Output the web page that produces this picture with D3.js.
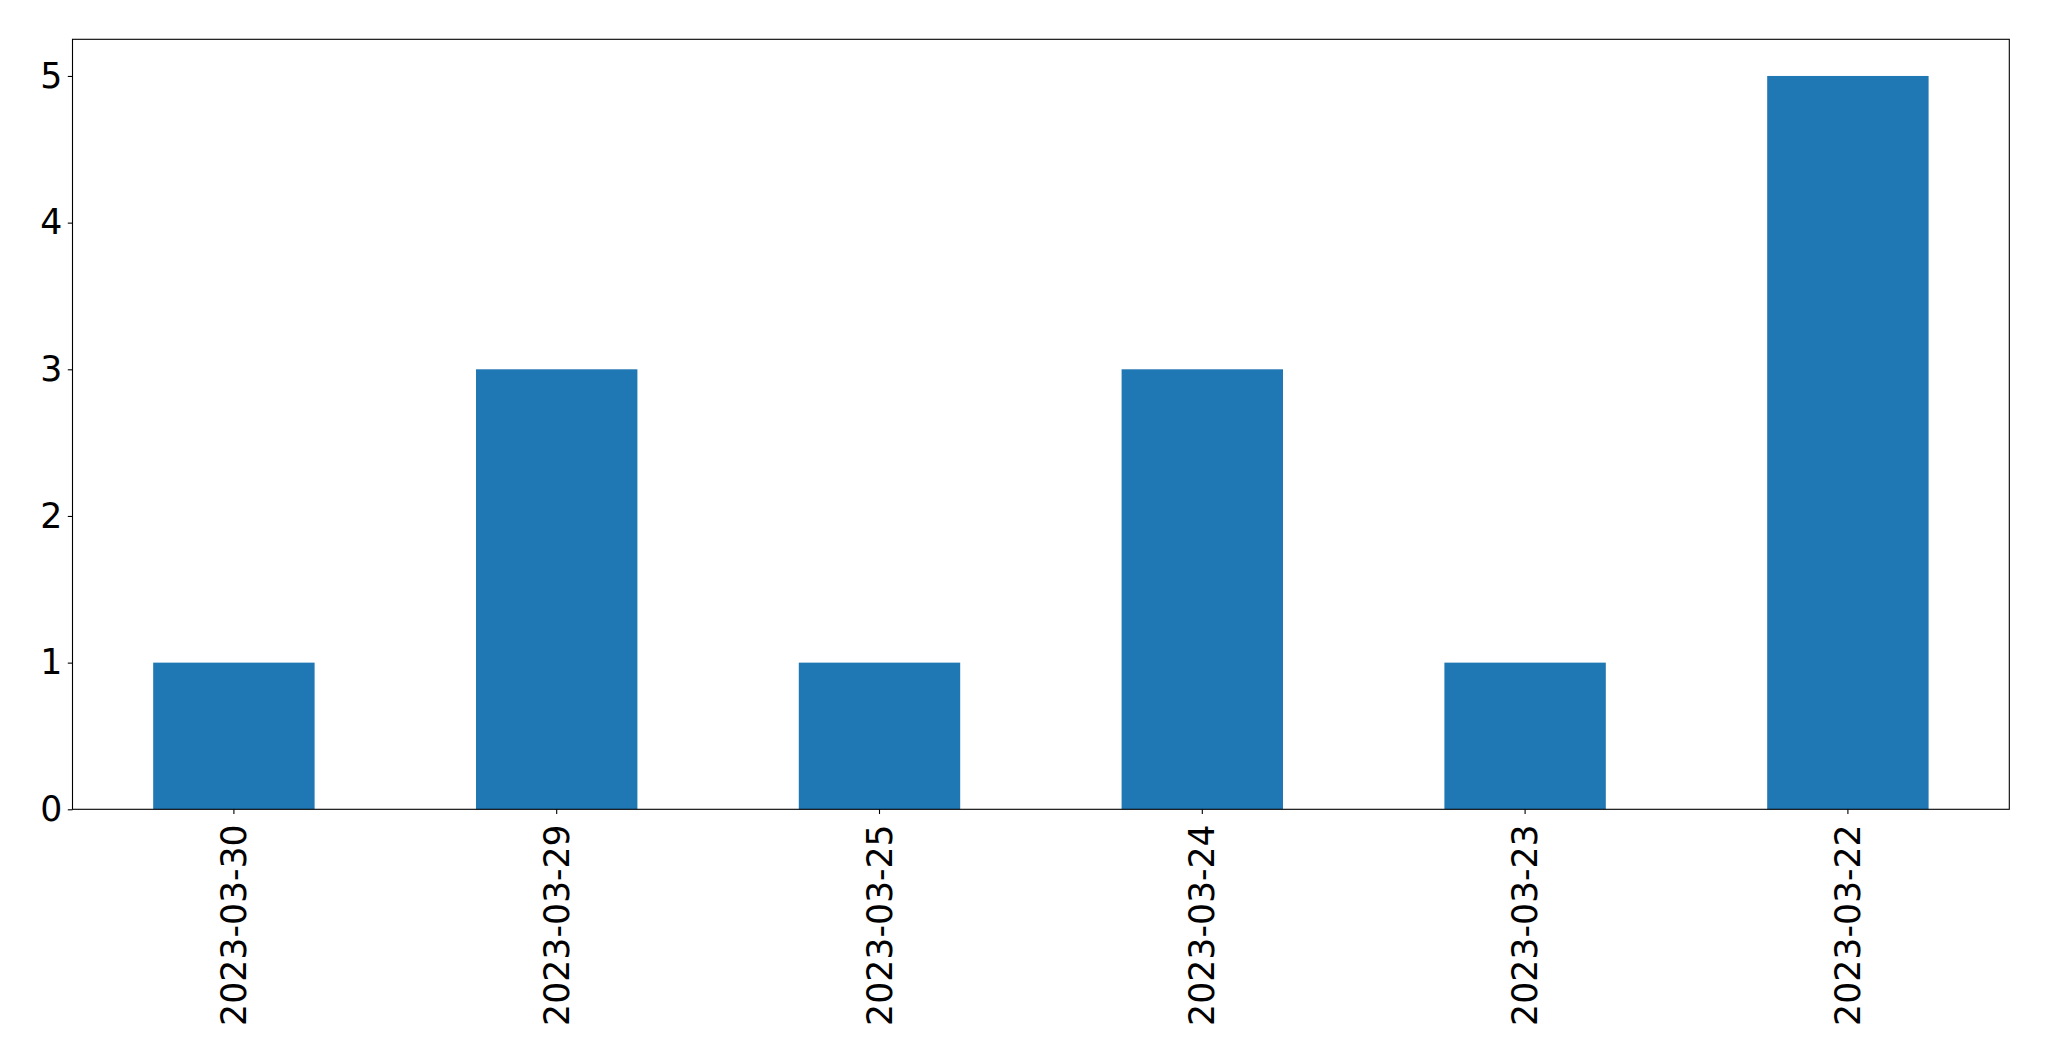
<!DOCTYPE html>
<html><head><meta charset="utf-8">
<script src="https://cdn.jsdelivr.net/npm/d3@7"></script>
<style>body{margin:0;background:#fff}svg{display:block}</style>
</head><body>
<script>
const categories = ["2023-03-30","2023-03-29","2023-03-25","2023-03-24","2023-03-23","2023-03-22"];
const values = [1,3,1,3,1,5];
const yTicks = [0,1,2,3,4,5];

const W = 2049, H = 1061;
const m = {left:72.5, right:2049-2009.3, top:39.3, bottom:1061-809.3};
const svg = d3.select("body").append("svg").attr("width",W).attr("height",H);
const x = d3.scaleBand().domain(categories).range([m.left, W-m.right]).paddingInner(0.5).paddingOuter(0.25);
const y = d3.scaleLinear().domain([0, 5.25]).range([H-m.bottom, m.top]);

svg.append("g").selectAll("rect").data(values).join("rect")
  .attr("x",(d,i)=>x(categories[i])).attr("width",x.bandwidth())
  .attr("y",d=>y(d)).attr("height",d=>y(0)-y(d)).attr("fill","#1f77b4");

const font = "DejaVu Sans";
const fs = "34.7px";
const ya = svg.append("g").attr("transform",`translate(${m.left},0)`)
  .call(d3.axisLeft(y).tickValues(yTicks).tickFormat(d3.format("d")).tickSize(4.7).tickPadding(5.5));
ya.select(".domain").remove();
ya.selectAll("text").attr("font-family",font).attr("font-size",fs).attr("fill","#000");
ya.selectAll("line").attr("stroke","#000").attr("stroke-width",1.1);

const xa = svg.append("g").attr("transform",`translate(0,${H-m.bottom})`)
  .call(d3.axisBottom(x).tickSize(4.7).tickPadding(5));
xa.select(".domain").remove();
xa.selectAll("line").attr("stroke","#000").attr("stroke-width",1.1);
xa.selectAll("text").attr("font-family",font).attr("font-size",fs).attr("fill","#000")
  .attr("transform","rotate(-90)").attr("text-anchor","end")
  .attr("x",-15).attr("y",0).attr("dy","0.35em");

svg.append("rect").attr("x",m.left).attr("y",m.top).attr("width",W-m.right-m.left).attr("height",H-m.bottom-m.top)
  .attr("fill","none").attr("stroke","#000").attr("stroke-width",1.1);
</script>
</body></html>
